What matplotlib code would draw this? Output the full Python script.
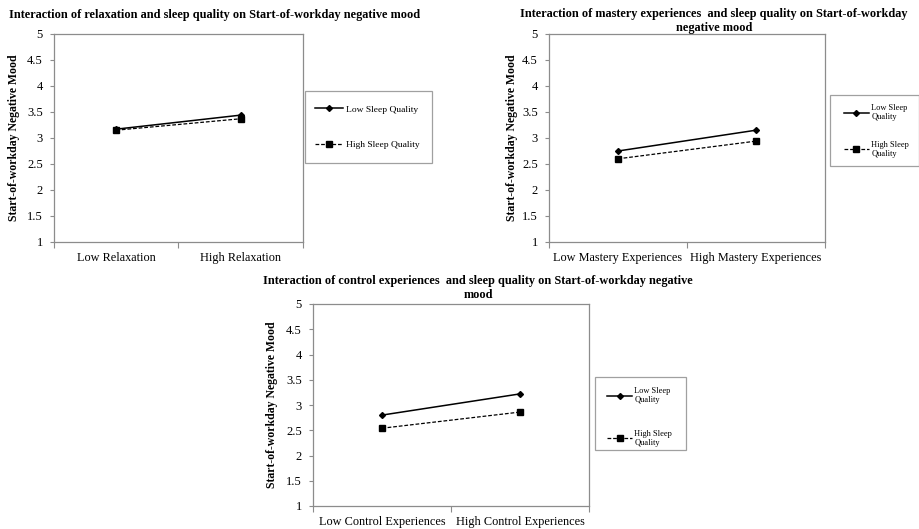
import matplotlib
matplotlib.use("Agg")
import matplotlib.pyplot as plt
from matplotlib.patches import Rectangle

plt.rcParams['font.family'] = ['Liberation Serif', 'DejaVu Serif']

W, H = 920, 529

title_lines = [
    ["Interaction of relaxation and sleep quality on Start-of-workday negative mood"],
    ["Interaction of mastery experiences  and sleep quality on Start-of-workday",
     "negative mood"],
    ["Interaction of control experiences  and sleep quality on Start-of-workday negative",
     "mood"],
]
x_labels = [
    ["Low Relaxation", "High Relaxation"],
    ["Low Mastery Experiences", "High Mastery Experiences"],
    ["Low Control Experiences", "High Control Experiences"],
]
y_label = "Start-of-workday Negative Mood"
y_ticks = [1, 1.5, 2, 2.5, 3, 3.5, 4, 4.5, 5]

low_sleep = [
    [3.17, 3.44],
    [2.75, 3.15],
    [2.80, 3.22],
]
high_sleep = [
    [3.15, 3.37],
    [2.60, 2.94],
    [2.54, 2.86],
]
legend_labels = [
    ["Low Sleep Quality", "High Sleep Quality"],
    ["Low Sleep\nQuality", "High Sleep\nQuality"],
    ["Low Sleep\nQuality", "High Sleep\nQuality"],
]

# layout in pixels
axes_px = [(54, 303, 34, 242), (549, 825, 34, 242), (313, 589, 304, 506)]
title_px = [(215, [15]), (714, [14, 28]), (478, [281, 295])]
ylabel_x = [20, 518, 278]
legend_box = [(305, 432, 91, 163), (830, 919, 95, 166), (595, 686, 377, 450)]
legend_anchor = [(315, 127), (844, 131), (607, 417)]
legend_fs = [6.8, 6.0, 6.0]
legend_sp = [2.8, 2.3, 3.0]

fig = plt.figure(figsize=(W / 100, H / 100), dpi=100)
gray = '#8c8c8c'

for i in range(3):
    l, r, t, b = axes_px[i]
    ax = fig.add_axes([l / W, 1 - b / H, (r - l) / W, (b - t) / H])
    xs = [0.5, 1.5]
    h1, = ax.plot(xs, low_sleep[i], color='black', lw=1.1, marker='D', ms=3.0,
                  label=legend_labels[i][0])
    h2, = ax.plot(xs, high_sleep[i], color='black', lw=0.9, ls=(0, (3, 1.5)),
                  marker='s', ms=5.0, label=legend_labels[i][1])
    ax.set_xlim(0, 2)
    ax.set_ylim(1, 5)
    ax.set_yticks(y_ticks)
    ax.set_yticklabels(['%g' % v for v in y_ticks])
    ax.set_xticks([0, 1, 2])
    ax.set_xticklabels([])
    ax.set_xticks(xs, minor=True)
    ax.set_xticklabels(x_labels[i], minor=True)
    ax.tick_params(axis='x', which='minor', length=0, pad=7, labelsize=8.8)
    ax.tick_params(axis='x', which='major', length=4, color=gray, direction='out')
    ax.tick_params(axis='y', length=3, color=gray, direction='out', labelsize=9, pad=5)
    for s in ax.spines.values():
        s.set_color(gray)
        s.set_linewidth(0.9)
    ax.set_ylabel(y_label, fontsize=8.5, fontweight='bold')
    ax.yaxis.set_label_coords((ylabel_x[i] - l) / (r - l), 0.5)

    tx, tys = title_px[i]
    for line, ty in zip(title_lines[i], tys):
        fig.text(tx / W, 1 - ty / H, line, ha='center', va='center',
                 fontsize=8.8, fontweight='bold')

    bl, br, bt, bb = legend_box[i]
    fig.patches.append(Rectangle((bl / W, 1 - bb / H), (br - bl) / W, (bb - bt) / H,
                                 transform=fig.transFigure, fill=False,
                                 edgecolor='#a0a0a0', lw=0.9))
    ax_, ay_ = legend_anchor[i]
    fig.legend(handles=[h1, h2], loc='center left',
               bbox_to_anchor=(ax_ / W, 1 - ay_ / H), frameon=False,
               fontsize=legend_fs[i], borderpad=0, borderaxespad=0,
               handlelength=3.0, handletextpad=0.3, labelspacing=legend_sp[i])

fig.savefig("out.png", dpi=100)
